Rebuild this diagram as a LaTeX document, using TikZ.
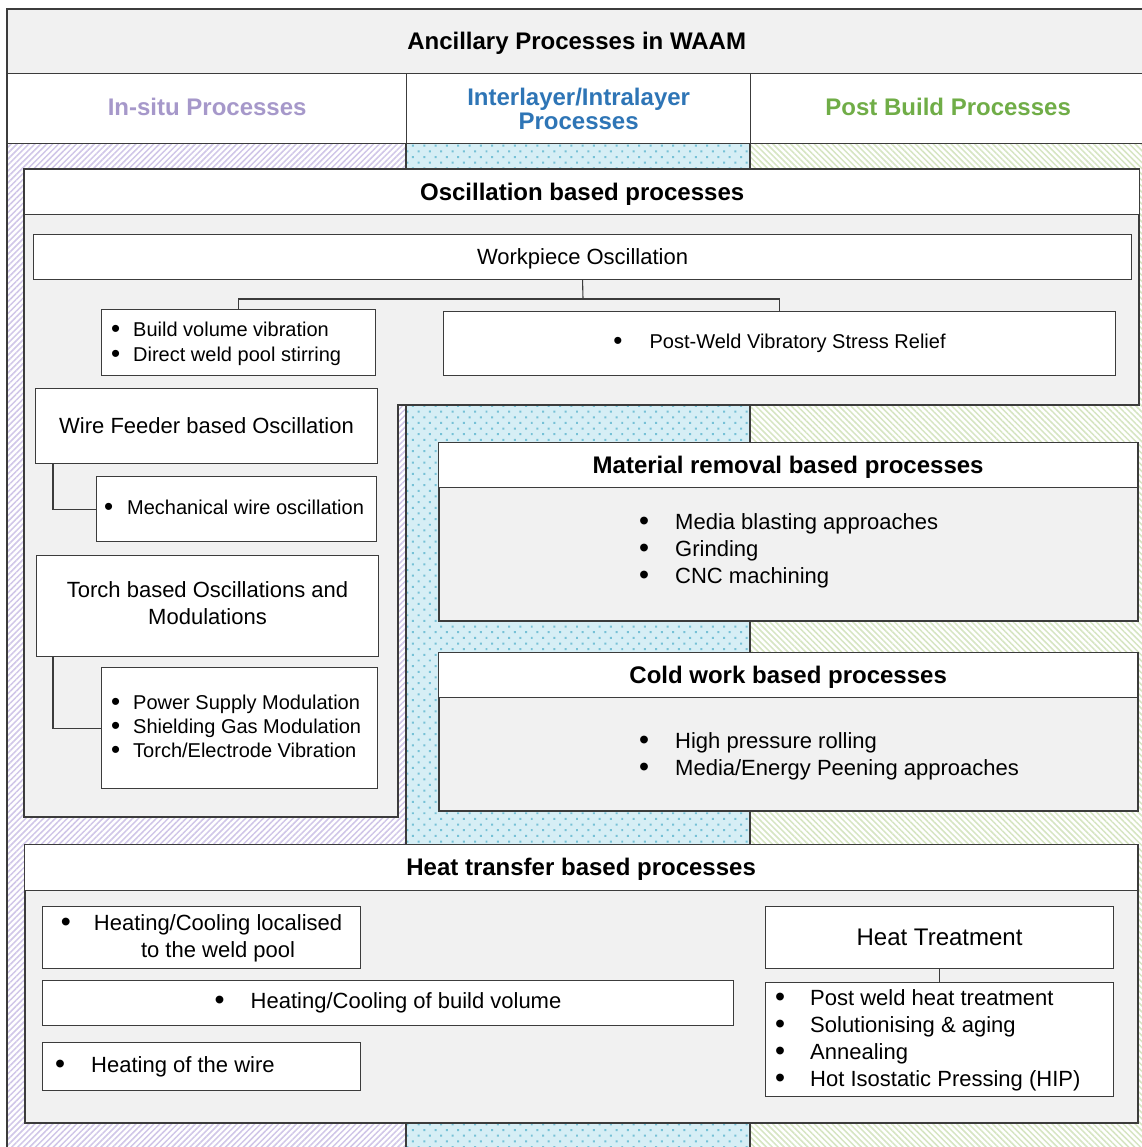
\documentclass[tikz,border=0pt]{standalone}
\usepackage{fontspec}
\setmainfont{Liberation Sans}
\usetikzlibrary{patterns.meta}
\definecolor{framegray}{RGB}{60,60,60}
\definecolor{panelgray}{RGB}{241,241,241}
\definecolor{insitu}{RGB}{166,152,202}
\definecolor{inter}{RGB}{46,117,182}
\definecolor{post}{RGB}{112,173,71}
\definecolor{insituhatch}{RGB}{208,198,232}
\definecolor{interbg}{RGB}{214,238,245}
\definecolor{interdot}{RGB}{118,193,214}
\definecolor{posthatch}{RGB}{214,229,194}
% a slightly enlarged bullet
\newcommand{\bul}{\raisebox{-0.04em}{\scalebox{1.3}{\textbullet}}}
% bullet item: bullet in a box of width #1, then the text
\newcommand{\bitem}[2]{\makebox[#1][l]{\bul}#2}
% move a label up or down without changing its box size
\newcommand{\nudge}[2]{\raisebox{#1}[\height][\depth]{#2}}

\begin{document}
\begin{tikzpicture}[x=1pt,y=-1pt,
  panel/.style={draw=framegray, line width=1.5pt, fill=panelgray},
  box/.style={draw=framegray, line width=1.1pt, fill=white, anchor=north west, inner sep=0pt, align=center},
  head/.style={box, line width=1.3pt, font=\fontsize{24}{28}\selectfont\bfseries},
  txt/.style={inner sep=0pt, anchor=west, align=left},
  link/.style={draw=framegray, line width=1.1pt},
  f20/.style={font=\fontsize{20}{25}\selectfont},
  f20b/.style={font=\fontsize{20}{24}\selectfont},
  f22/.style={font=\fontsize{22}{27}\selectfont},
  f24/.style={font=\fontsize{24}{28}\selectfont},
]
\useasboundingbox (0,0) rectangle (1141,1147);

% column backgrounds
\fill[white] (7,143) rectangle (406,1150);
\fill[pattern={Lines[angle=45,distance=4.2pt,line width=1.5pt]}, pattern color=insituhatch] (7,143) rectangle (406,1150);
\fill[interbg] (406,143) rectangle (750,1150);
\fill[pattern={Dots[distance=8pt,radius=1.4pt,angle=45]}, pattern color=interdot] (406,143) rectangle (750,1150);
\fill[white] (750,143) rectangle (1145,1150);
\fill[pattern={Lines[angle=-45,distance=4.2pt,line width=1.5pt]}, pattern color=posthatch] (750,143) rectangle (1145,1150);
\draw[framegray, line width=1.1pt] (406,143) -- (406,1150) (750,143) -- (750,1150);
\draw[framegray, line width=1.5pt] (7,1150) -- (7,9) -- (1145,9);

% title row and column headings
\node[head, fill=panelgray, minimum width=1138, minimum height=64] (title) at (7,9) {\nudge{-2pt}{Ancillary Processes in WAAM}};
\node[head, minimum width=399, minimum height=70, text=insitu] (colA) at (7,73) {\nudge{2pt}{In-situ Processes}};
\node[head, minimum width=344, minimum height=70, text=inter, font=\fontsize{24}{24}\selectfont\bfseries] (colB) at (406,73) {Interlayer/Intralayer\\Processes};
\node[head, minimum width=395, minimum height=70, text=post] (colC) at (750,73) {\nudge{2pt}{Post Build Processes}};

% oscillation based processes
\draw[panel] (24,169) -- (1139,169) -- (1139,405) -- (398,405) -- (398,817) -- (24,817) -- cycle;
\node[head, minimum width=1115, minimum height=45] (osc) at (24,169) {\nudge{-2pt}{Oscillation based processes}};
\node[box, f22, minimum width=1098, minimum height=45] (wp) at (33,234) {\nudge{-2pt}{Workpiece Oscillation}};
\node[box, minimum width=274, minimum height=66] (bv) at (101,309) {};
\node[txt, f20] (bvt) at (111,344) {\bitem{22pt}{Build volume vibration}\\\bitem{22pt}{Direct weld pool stirring}};
\node[box, f20, minimum width=672, minimum height=64] (pw) at (443,311) {\bul\hspace{27pt}Post-Weld Vibratory Stress Relief};
\coordinate (wpj) at (583,299);
\draw[link] (wp.south) -- (wpj);
\draw[link] (bv.north) |- (wpj) -| (pw.north);

\node[box, f22, minimum width=342, minimum height=75] (wf) at (35,388) {Wire Feeder based Oscillation};
\node[box, minimum width=280, minimum height=65] (mw) at (96,476) {};
\node[txt, f20] (mwt) at (104,508) {\bitem{23pt}{Mechanical wire oscillation}};
\draw[link] ([xshift=18pt]wf.south west) |- (mw.west);

\node[box, f22, minimum width=342, minimum height=101] (tb) at (36,555) {\begin{tabular}{@{}c@{}}Torch based Oscillations and\\Modulations\end{tabular}};
\node[box, minimum width=276, minimum height=121] (ps) at (101,667) {};
\node[txt, f20b] (pst) at (111,727) {\bitem{22pt}{Power Supply Modulation}\\\bitem{22pt}{Shielding Gas Modulation}\\\bitem{22pt}{Torch/Electrode Vibration}};
\draw[link] ([xshift=17pt]tb.south west) |- (ps.west);

% material removal based processes
\node[box, fill=panelgray, line width=1.5pt, minimum width=699, minimum height=178] (mat) at (438,442) {};
\node[head, minimum width=699, minimum height=45] (math) at (438,442) {\nudge{-2pt}{Material removal based processes}};
\node[txt, f22] (matt) at (639,551) {\bitem{36pt}{Media blasting approaches}\\\bitem{36pt}{Grinding}\\\bitem{36pt}{CNC machining}};

% cold work based processes
\node[box, fill=panelgray, line width=1.5pt, minimum width=699, minimum height=158] (cw) at (438,652) {};
\node[head, minimum width=699, minimum height=45] (cwh) at (438,652) {\nudge{-2pt}{Cold work based processes}};
\node[txt, f22] (cwt) at (639,756.5) {\bitem{36pt}{High pressure rolling}\\\bitem{36pt}{Media/Energy Peening approaches}};

% heat transfer based processes
\node[box, fill=panelgray, line width=1.5pt, minimum width=1113, minimum height=278] (ht) at (24,844) {};
\node[head, minimum width=1113, minimum height=46] (hth) at (24,844) {\nudge{-2pt}{Heat transfer based processes}};
\node[box, f22, minimum width=318, minimum height=62] (hl) at (42,906)
  {\nudge{-1pt}{\begin{tabular}{@{}l@{\hspace{23pt}}c@{}}\bul & Heating/Cooling localised\\ & to the weld pool\end{tabular}}};
\node[box, f22, minimum width=691, minimum height=45] (hb) at (42,980) {\bul\hspace{26pt}Heating/Cooling of build volume};
\node[box, minimum width=318, minimum height=48] (hw) at (42,1042) {};
\node[txt, f22] (hwt) at (55,1067) {\bitem{36pt}{Heating of the wire}};
\node[box, f24, minimum width=348, minimum height=62] (htr) at (765,906) {Heat Treatment};
\node[box, minimum width=348, minimum height=114] (htl) at (765,982) {};
\node[txt, f22] (htlt) at (775,1040.5) {\bitem{35pt}{Post weld heat treatment}\\\bitem{35pt}{Solutionising \& aging}\\\bitem{35pt}{Annealing}\\\bitem{35pt}{Hot Isostatic Pressing (HIP)}};
\draw[link] (htr.south) -- (htl.north);
\end{tikzpicture}
\end{document}
